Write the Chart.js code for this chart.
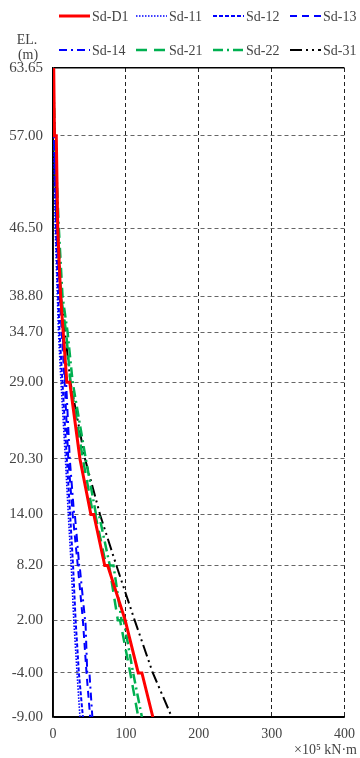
<!DOCTYPE html>
<html><head><meta charset="utf-8">
<script src="https://cdn.jsdelivr.net/npm/chart.js@4/dist/chart.umd.min.js"></script>
<style>html,body{margin:0;padding:0;background:#fff;}#wrap{width:360px;height:758px;position:relative;}</style>
</head><body><div id="wrap"><canvas id="c" width="360" height="758"></canvas></div>
<script>
// Elevation (m) of each vertex; repeated elevations form the small horizontal steps
const elevations = [64.7, 57, 57, 46.5, 38.8, 34.7, 29, 29, 20.3, 14, 14, 8.2, 8.2, 2, 2, -4, -4, -9];
// y-axis tick positions and their printed labels (top edge printed as 63.65)
const yTickValues = [64.7, 57, 46.5, 38.8, 34.7, 29, 20.3, 14, 8.2, 2, -4, -9];
const yTickLabels = ['63.65', '57.00', '46.50', '38.80', '34.70', '29.00', '20.30', '14.00', '8.20', '2.00', '-4.00', '-9.00'];
const xTickValues = [0, 100, 200, 300, 400];
const seriesNames = ['Sd-D1', 'Sd-11', 'Sd-12', 'Sd-13', 'Sd-14', 'Sd-21', 'Sd-22', 'Sd-31'];
// Moment values (x10^5 kN·m) at each elevation
const sdD1 = [1, 2, 4.5, 6.5, 10.5, 14, 19, 23, 37, 52, 56, 71, 75, 99, 99, 117, 122, 137];
const sd11 = [0, 1, 1, 3, 6, 7.5, 11, 11, 17, 21, 21, 25, 25, 28.5, 28.5, 33, 33, 37];
const sd12 = [0, 1.5, 1.5, 4, 7, 9, 13, 13, 19, 23.5, 23.5, 27.5, 27.5, 31, 31, 35.5, 35.5, 41];
const sd13 = [0, 2, 2, 5, 9, 12, 16, 16, 21, 27, 27, 34, 34, 41, 41, 46, 46, 51];
const sd14 = [0, 2, 2, 6, 10, 13, 17, 18, 23, 29, 30, 36, 36.5, 44, 44.5, 47, 50, 54];
const sd21 = [0, 2, 2, 7, 11, 18, 24, 24, 41, 55, 58, 73, 77, 89, 92, 106, 106, 117];
const sd22 = [0, 2.5, 2.5, 8, 13, 20, 27, 27, 45, 59, 63, 78, 83, 94, 97, 110, 110, 122];
const sd31 = [0, 1.5, 1.5, 5, 11, 16.5, 24, 24, 44, 64.5, 64.5, 87, 87, 112, 112, 137, 137, 163];

const seriesValues = [sdD1, sd11, sd12, sd13, sd14, sd21, sd22, sd31];
const styles = [
  {c: '#ff0000', w: 3, d: []},
  {c: '#0000ff', w: 1.6, d: [1.5, 1.5]},
  {c: '#0000ff', w: 2, d: [4, 2]},
  {c: '#0000ff', w: 2, d: [7, 5]},
  {c: '#0000ff', w: 2, d: [8, 4, 2, 4]},
  {c: '#00b050', w: 2.5, d: [11, 7]},
  {c: '#00b050', w: 2.5, d: [10, 4, 2, 4]},
  {c: '#000000', w: 2, d: [12, 4, 2, 4, 2, 4]}
];

const datasets = seriesNames.map((name, i) => ({
  label: name,
  data: seriesValues[i].map((v, k) => ({x: v, y: elevations[k]})),
  borderColor: styles[i].c,
  backgroundColor: styles[i].c,
  borderWidth: styles[i].w,
  borderDash: styles[i].d,
  pointRadius: 0,
  tension: 0,
  fill: false
}));

const FONT = 'Liberation Serif';
const TXT = '#444';

const decor = {
  id: 'decor',
  afterDraw(chart) {
    const ctx = chart.ctx;
    ctx.save();
    // legend
    ctx.font = '14px "' + FONT + '"';
    ctx.textBaseline = 'middle';
    ctx.textAlign = 'left';
    chart.data.datasets.forEach((ds, i) => {
      const col = i % 4, row = Math.floor(i / 4);
      const x0 = 59 + col * 77;
      const y = row === 0 ? 16 : 50;
      ctx.save();
      ctx.strokeStyle = ds.borderColor;
      ctx.lineWidth = ds.borderWidth;
      ctx.setLineDash(ds.borderDash);
      ctx.beginPath();
      ctx.moveTo(x0, y);
      ctx.lineTo(x0 + 31, y);
      ctx.stroke();
      ctx.restore();
      ctx.fillStyle = TXT;
      ctx.fillText(ds.label, x0 + 33, y + 1);
    });
    // y axis unit
    ctx.fillStyle = TXT;
    ctx.textAlign = 'center';
    ctx.font = '14px "' + FONT + '"';
    ctx.fillText('EL.', 27, 40);
    ctx.fillText('(m)', 28, 55);
    // x axis unit
    ctx.textAlign = 'right';
    ctx.font = '14px "' + FONT + '"';
    ctx.fillText('×10⁵ kN·m', 357, 750);
    ctx.restore();
  }
};

new Chart(document.getElementById('c'), {
  type: 'line',
  data: {datasets},
  plugins: [decor],
  options: {
    responsive: false,
    animation: false,
    devicePixelRatio: 1,
    layout: {padding: {top: 68, right: 15.5, left: 0, bottom: 0}},
    plugins: {legend: {display: false}, tooltip: {enabled: false}},
    scales: {
      x: {
        type: 'linear', position: 'bottom', min: 0, max: 400,
        afterBuildTicks: s => { s.ticks = xTickValues.map(v => ({value: v})); },
        afterFit: s => { s.height = 41; s.paddingRight = 0; s.paddingLeft = 0; },
        ticks: {autoSkip: false, maxRotation: 0, padding: 9, color: TXT, font: {family: FONT, size: 14}},
        grid: {drawTicks: false, color: '#222', lineWidth: 1},
        border: {display: true, color: '#000', width: 1.5,
          dash: c => (c.tick && c.tick.value > 0) ? [4, 3] : []}
      },
      y: {
        type: 'linear', min: -9, max: 64.7,
        afterBuildTicks: s => { s.ticks = yTickValues.map(v => ({value: v})); },
        afterFit: s => { s.width = 53; s.paddingTop = 0; s.paddingBottom = 0; },
        ticks: {autoSkip: false, padding: 10, color: TXT, font: {family: FONT, size: 15},
          callback: v => yTickLabels[yTickValues.indexOf(v)]},
        grid: {drawTicks: false, lineWidth: c => (c.tick && c.tick.value === 64.7) ? 1.5 : 1,
          color: c => (c.tick && (c.tick.value === 64.7 || c.tick.value === -9)) ? '#000' : '#666'},
        border: {display: true, color: '#000', width: 1.5,
          dash: c => (c.tick && c.tick.value !== 64.7 && c.tick.value !== -9) ? [4, 3] : []}
      }
    }
  }
});
</script></body></html>
